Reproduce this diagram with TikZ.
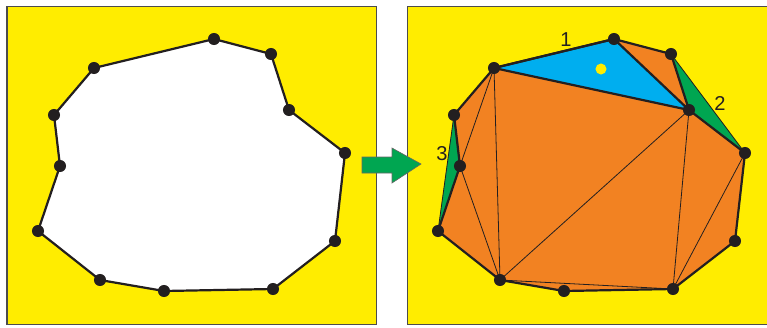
\documentclass[tikz,border=0pt]{standalone}
\usepackage{fontspec}
\setmainfont{Liberation Sans}
\usepackage{tikz}
\usetikzlibrary{
    arrows.meta,
    positioning,
    calc
}
\definecolor{bgYellow}{RGB}{255,237,0}
\definecolor{triOrange}{RGB}{242,130,34}
\definecolor{triBlue}{RGB}{0,174,239}
\definecolor{triGreen}{RGB}{0,166,81}
\definecolor{dotBlack}{RGB}{35,31,32}
\tikzset{
  panel/.style  = {fill=bgYellow, draw=black!70, line width=1pt},
  vtx/.style    = {circle, fill=dotBlack, inner sep=0pt, minimum size=12pt},
  edge/.style   = {draw=dotBlack, line width=2.2pt, line join=round},
  diag/.style   = {draw=dotBlack, line width=0.8pt},
  lbl/.style    = {font=\fontsize{20}{20}\selectfont, text=dotBlack}
}

\begin{document}
\begin{tikzpicture}[x=0.035cm, y=-0.035cm]

\useasboundingbox (0,0) rectangle (767,327);

% panels
\path[panel] (7,6) rectangle (376,324);
\path[panel] (407,6) rectangle (772,324);

% polygon vertices (left)
\coordinate (p1) at (214,39);
\coordinate (p2) at (271,54);
\coordinate (p3) at (289,110);
\coordinate (p4) at (345,153);
\coordinate (p5) at (335,241);
\coordinate (p6) at (273,289);
\coordinate (p7) at (164,291);
\coordinate (p8) at (100,280);
\coordinate (p9) at (38,231);
\coordinate (p10) at (60,166);
\coordinate (p11) at (54,115);
\coordinate (p12) at (94,68);

% polygon vertices (right)
\coordinate (q1) at (614,39);
\coordinate (q2) at (671,54);
\coordinate (q3) at (689,110);
\coordinate (q4) at (745,153);
\coordinate (q5) at (735,241);
\coordinate (q6) at (673,289);
\coordinate (q7) at (564,291);
\coordinate (q8) at (500,280);
\coordinate (q9) at (438,231);
\coordinate (q10) at (460,166);
\coordinate (q11) at (454,115);
\coordinate (q12) at (494,68);

% left polygon
\path[edge, fill=white] (p1) -- (p2) -- (p3) -- (p4) -- (p5) -- (p6)
    -- (p7) -- (p8) -- (p9) -- (p10) -- (p11) -- (p12) -- cycle;

% arrow
\draw[fill=triGreen, draw=black!60, line width=0.6pt]
    (362,157) -- (392,157) -- (392,148) -- (421,164) -- (392,183)
    -- (392,173) -- (362,173) -- cycle;

% hull and triangles
\fill[triOrange] (q1) -- (q2) -- (q4) -- (q5) -- (q6) -- (q7) -- (q8)
    -- (q9) -- (q11) -- (q12) -- cycle;
\path[fill=triGreen, diag] (q2) -- (q3) -- (q4) -- cycle;
\path[fill=triGreen, diag] (q9) -- (q10) -- (q11) -- cycle;
\path[fill=triBlue, edge] (q12) -- (q1) -- (q3) -- cycle;

% diagonals
\draw[diag] (q12) -- (q10);
\draw[diag] (q12) -- (q8);
\draw[diag] (q10) -- (q8);
\draw[diag] (q3) -- (q8);
\draw[diag] (q3) -- (q6);
\draw[diag] (q4) -- (q6);
\draw[diag] (q8) -- (q6);

% right polygon
\path[edge] (q1) -- (q2) -- (q3) -- (q4) -- (q5) -- (q6)
    -- (q7) -- (q8) -- (q9) -- (q10) -- (q11) -- (q12) -- cycle;

% vertices
\foreach \i in {1,...,12} {
  \node[vtx] (a\i) at (p\i) {};
  \node[vtx] (b\i) at (q\i) {};
}

% ear marker and labels
\node[circle, fill=bgYellow, inner sep=0pt, minimum size=11pt] (ear) at (601,69) {};
\node[lbl] (one) at (566,40) {1};
\node[lbl] (two) at (720,103) {2};
\node[lbl] (three) at (442,154) {3};

\end{tikzpicture}
\end{document}
